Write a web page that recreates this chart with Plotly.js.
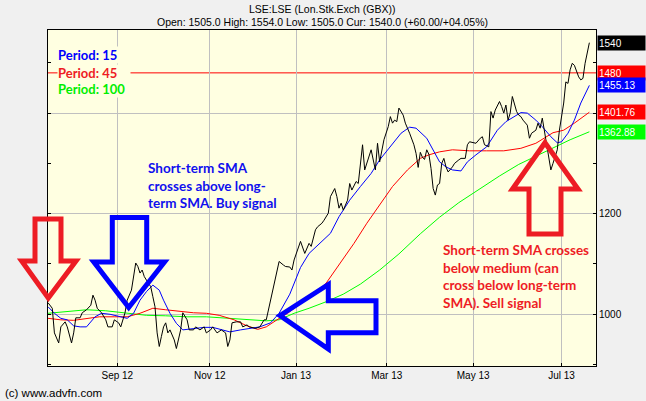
<!DOCTYPE html>
<html>
<head>
<meta charset="utf-8">
<script src="https://cdn.plot.ly/plotly-3.0.1.min.js"></script>
<style>html,body{margin:0;padding:0;background:#F0F0F0;}#chart{width:646px;height:401px;}</style>
</head>
<body>
<div id="chart"></div>
<script>
// ---- data (x = trading-day index from the left edge of the chart) ----
const priceDay = [0,2,3,5,6,8,9,11,12,13,15,16,18,20,21,22,23,25,27,28,30,31,33,34,36,37,39,40,41,42,43,44,45,46,48,49,50,51,52,53,54,55,56,57,59,60,62,63,65,66,68,69,71,73,74,76,77,79,81,83,84,85,86,88,90,91,93,94,96,97,99,101,102,103,104,105,106,108,110,111,113,114,115,116,118,120,122,123,125,126,128,129,131,132,134,135,136,137,138,140,141,142,144,145,146,147,148,150,151,153,154,155,156,157,159,160,161,162,163,164,166,167,169,171,172,173,174,175,176,177,178,179,180,181,182,183,184,185,186,187,189,190,192,193,195,196,197,199,200,202,203,204,206,207,208,209,211,212,213,214,215,216,217,219,220,221,222,224,225,226,228,229,230,231,232,233,234,235,236,237,238,239,240,241,242,243,244,245,246,247,248,249,250,251,252,253];
const priceClose = [1023,1012,963,943,975,985,975,943,963,993,993,1003,1009,1018,1038,1028,1012,1003,989,975,975,989,983,975,1003,1028,1048,1075,1102,1095,1082,1088,1075,1068,1055,1035,1015,963,936,956,975,983,963,969,949,932,969,1003,989,969,969,975,969,975,963,969,975,963,969,963,936,949,983,985,985,975,979,975,972,972,975,989,989,1009,1028,1048,1070,1105,1098,1095,1094,1088,1108,1121,1145,1121,1141,1135,1168,1174,1181,1187,1201,1234,1250,1234,1211,1221,1207,1227,1260,1247,1264,1260,1303,1337,1287,1313,1327,1287,1340,1303,1323,1347,1373,1393,1380,1386,1383,1410,1396,1380,1360,1337,1320,1292,1322,1312,1308,1327,1318,1290,1250,1237,1257,1260,1300,1310,1293,1283,1293,1300,1307,1310,1310,1337,1343,1340,1340,1350,1353,1337,1333,1403,1390,1406,1423,1413,1400,1416,1386,1400,1433,1403,1396,1393,1386,1376,1350,1360,1366,1380,1370,1390,1366,1340,1313,1287,1300,1313,1327,1366,1393,1420,1462,1459,1486,1499,1495,1485,1472,1466,1469,1499,1520,1540];

const smaDay15 = [0,3,6,9,12,15,18,20,22,25,29,34,37,40,43,46,49,52,54,57,60,63,68,73,77,81,85,90,94,99,104,108,113,118,122,127,132,136,141,146,151,155,160,165,169,172,177,181,183,186,189,193,196,200,205,210,214,221,224,228,231,235,238,240,243,246,249,253];
const sma15    = [1015,1002,992,989,977,975,975,985,995,1002,1000,995,992,1002,1028,1045,1058,1048,1028,1002,982,969,972,974,974,970,965,969,972,975,983,1002,1040,1093,1121,1141,1161,1194,1227,1254,1280,1307,1333,1360,1372,1370,1350,1320,1303,1293,1287,1285,1303,1317,1333,1366,1383,1401,1400,1386,1373,1353,1341,1343,1360,1386,1420,1455.13];

const smaDay45 = [0,6,12,18,24,31,37,43,49,55,62,68,74,80,87,93,98,102,107,112,117,122,130,136,143,149,155,161,168,174,178,183,189,197,205,213,221,228,236,241,246,253];
const sma45    = [992,989,988,992,995,995,995,1002,1012,1009,1005,1003,1002,998,989,977,970,975,989,1002,1018,1032,1062,1098,1141,1181,1217,1254,1287,1310,1317,1323,1327,1325,1325,1325,1330,1340,1361,1366,1380,1401.76];

const smaDay100 = [0,9,18,27,37,46,55,65,74,84,93,102,108,115,122,130,138,146,155,164,174,183,192,202,211,220,230,237,244,253];
const sma100    = [1002,1005,1009,1007,1002,998,997,995,995,992,990,987,989,1002,1012,1025,1040,1060,1088,1120,1160,1193,1222,1250,1275,1298,1318,1333,1347,1362.88];

const prevClose = 1480;
const lastClose = 1540;

const tickDays   = [32.4, 75.6, 115.9, 158.3, 198.7, 240.0];
const tickLabels = ['Sep 12','Nov 12','Jan 13','Mar 13','May 13','Jul 13'];

const priceTicks      = [1000, 1200, 1400];
const priceTickLabels = ['1000', '1200', ''];   // the 1400 label sits under the SMA-45 value box

const headline = 'LSE:LSE (Lon.Stk.Exch (GBX))';
const subline  = 'Open: 1505.0 High: 1554.0 Low: 1505.0 Cur: 1540.0 (+60.00/+04.05%)';

// ---- drawing ----
const PL = 48, PR = 596, PT = 30, PB = 366;
const px = x => (x - PL) / (PR - PL);
const py = y => (PB - y) / (PB - PT);
function pathFromPx(pts) {
  return 'M' + pts.map(p => px(p[0]).toFixed(5) + ',' + py(p[1]).toFixed(5)).join(' L') + ' Z';
}

const RED_A = '#ED1C24', BLUE_A = '#0000FF';
const traces = [
  {x: smaDay100, y: sma100, type: 'scatter', mode: 'lines', line: {color: '#00FF00', width: 1}},
  {x: smaDay45,  y: sma45,  type: 'scatter', mode: 'lines', line: {color: '#FF0000', width: 1}},
  {x: smaDay15,  y: sma15,  type: 'scatter', mode: 'lines', line: {color: '#0000FF', width: 1}},
  {x: priceDay,  y: priceClose, type: 'scatter', mode: 'lines', line: {color: '#000000', width: 1}}
];

const arrowShapes = [
  pathFromPx([[35,219],[61,219],[61,261],[76,261],[48.3,298],[21.7,261],[35,261]]),
  pathFromPx([[112.3,217.5],[146.7,217.5],[146.7,262],[164.5,262],[128.7,307.5],[93.8,262],[112.3,262]]),
  pathFromPx([[280,315.5],[328.3,284.5],[328.3,300.7],[376,300.7],[376,332.7],[328.3,332.7],[328.3,349]]),
  pathFromPx([[545,142.7],[578,189],[561,189],[561,234],[529,234],[529,189],[512.5,189]])
];
const arrowColors = [RED_A, BLUE_A, BLUE_A, RED_A];

const shapes = [
  {type: 'line', xref: 'paper', yref: 'y', x0: 0, x1: 1, y0: prevClose, y1: prevClose, line: {color: '#FF0000', width: 1}, layer: 'below'}
].concat(arrowShapes.map((p, i) => ({type: 'path', xref: 'paper', yref: 'paper', path: p, line: {color: arrowColors[i], width: 5}, fillcolor: 'rgba(0,0,0,0)', layer: 'above'})));

const textFont = 'Lato, "Open Sans", sans-serif';
const axFont = {family: '"Liberation Sans", Arial, sans-serif', size: 10, color: '#000'};

function valueBox(val, txt, bg) {
  return {xref: 'paper', yref: 'y', x: 1, y: val, xanchor: 'left', yanchor: 'middle', text: txt,
    showarrow: false, bgcolor: bg, width: 45, height: 12, align: 'left', borderpad: 1, xshift: 1,
    font: {family: '"Liberation Sans", Arial, sans-serif', size: 10, color: '#FFFFFF'}};
}
function periodLabel(txt, color, y) {
  return {xref: 'paper', yref: 'paper', x: px(57), y: py(y), xanchor: 'left', yanchor: 'middle', text: '<b>' + txt + '</b>',
    showarrow: false, bgcolor: '#FFFFE1', width: 72, align: 'left', borderpad: 0,
    font: {family: textFont, size: 13, color: color}};
}

const annotations = [
  {xref: 'paper', yref: 'paper', x: 0.5, y: py(9), xanchor: 'center', yanchor: 'middle', text: headline, showarrow: false,
   font: {family: '"Liberation Sans", Arial, sans-serif', size: 10.5, color: '#000'}},
  {xref: 'paper', yref: 'paper', x: 0.5, y: py(22), xanchor: 'center', yanchor: 'middle', text: subline, showarrow: false,
   font: {family: '"Liberation Sans", Arial, sans-serif', size: 10.5, color: '#000'}},
  {xref: 'paper', yref: 'paper', x: px(3), y: py(393), xanchor: 'left', yanchor: 'middle', text: '(c) www.advfn.com', showarrow: false,
   font: {family: '"Liberation Sans", Arial, sans-serif', size: 11.5, color: '#000'}},
  periodLabel('Period: 15', '#0000FF', 55),
  periodLabel('Period: 45', '#EE1C24', 73.3),
  periodLabel('Period: 100', '#00EE00', 89.3),
  {xref: 'paper', yref: 'paper', x: px(146), y: py(158), xanchor: 'left', yanchor: 'top', align: 'left', showarrow: false,
   text: '<b>Short-term SMA<br>crosses above long-<br>term SMA. Buy signal</b>', font: {family: textFont, size: 13.5, color: '#1010EE'}},
  {xref: 'paper', yref: 'paper', x: px(440.5), y: py(240), xanchor: 'left', yanchor: 'top', align: 'left', showarrow: false,
   text: '<b>Short-term SMA crosses<br>below medium (can<br>cross below long-term<br>SMA). Sell signal</b>', font: {family: textFont, size: 13.5, color: '#EE1C24'}},
  valueBox(lastClose, String(lastClose), '#000000'),
  valueBox(prevClose, String(prevClose), '#FF0000'),
  valueBox(sma15[sma15.length - 1], sma15[sma15.length - 1].toFixed(2), '#0000FF'),
  valueBox(sma45[sma45.length - 1], sma45[sma45.length - 1].toFixed(2), '#FF0000'),
  valueBox(sma100[sma100.length - 1], sma100[sma100.length - 1].toFixed(2), '#00FF00')
];

const layout = {
  width: 646, height: 401,
  margin: {l: PL, r: 646 - PR, t: PT, b: 401 - PB, pad: 0},
  paper_bgcolor: '#F0F0F0', plot_bgcolor: '#FFFFE1',
  showlegend: false,
  xaxis: {range: [0, 256.1], tickmode: 'array', tickvals: tickDays, ticktext: tickLabels,
    showgrid: true, gridcolor: '#C0C0C0', gridwidth: 1, ticks: 'inside', ticklen: 3, tickcolor: '#000',
    showline: true, linecolor: '#000', linewidth: 1, mirror: true, zeroline: false, tickfont: axFont, fixedrange: true},
  yaxis: {side: 'right', range: [897.2, 1565.2], tickmode: 'array', tickvals: priceTicks, ticktext: priceTickLabels,
    showgrid: true, gridcolor: '#C0C0C0', gridwidth: 1, ticks: 'inside', ticklen: 3, tickcolor: '#000',
    minor: {dtick: 100, tick0: 1000, ticks: 'inside', ticklen: 3, tickcolor: '#000', showgrid: false},
    showline: true, linecolor: '#000', linewidth: 1, mirror: 'ticks', zeroline: false, tickfont: axFont, fixedrange: true},
  shapes: shapes,
  annotations: annotations
};

Plotly.newPlot('chart', traces, layout, {staticPlot: true, displayModeBar: false});
</script>
</body>
</html>
